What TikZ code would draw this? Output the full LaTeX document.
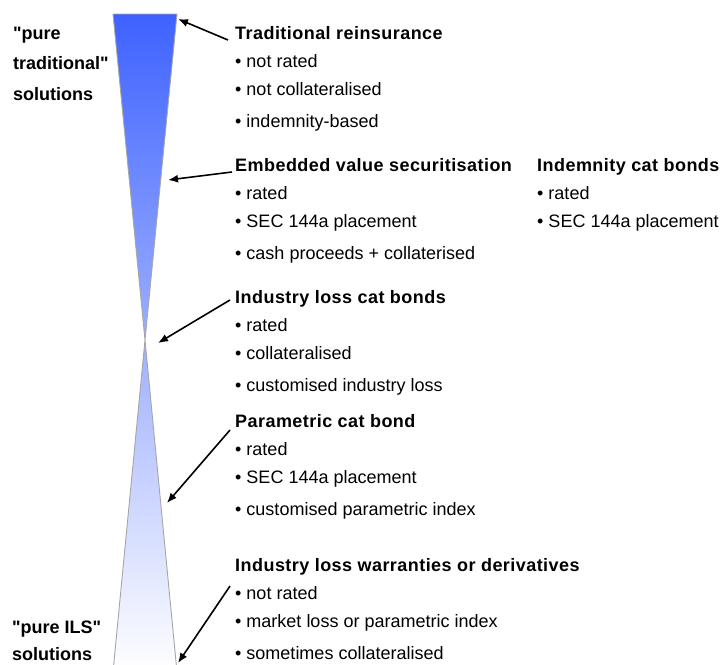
\documentclass[tikz,border=0pt]{standalone}
\usepackage{fontspec}
\setmainfont{Liberation Sans}
\newfontfamily\headfont{Liberation Sans}[LetterSpace=2.5]
\newfontfamily\sidefont{Liberation Sans}[Ligatures=TeXOff]
\usepackage{tikz}
\usetikzlibrary{positioning}
\usetikzlibrary{arrows.meta}

\definecolor{topblue}{RGB}{62,98,255}

\begin{document}
\begin{tikzpicture}[x=1pt,y=-1pt,
		head/.style={inner sep=0pt, anchor=base west, text height=13pt, text depth=4pt, font=\headfont\bfseries\fontsize{18}{20}\selectfont},
		point/.style={inner sep=0pt, text height=13pt, text depth=4pt, font=\fontsize{18}{20}\selectfont},
		side/.style={inner sep=0pt, anchor=base west, font=\sidefont\bfseries\fontsize{18}{20}\selectfont},
		hint/.style={line width=1.6pt, -{Latex[length=10pt,width=8pt]}}]
		\useasboundingbox (0,0) rectangle (722,664);
		
		% hourglass
		\begin{scope}
			\clip (0,0) rectangle (722,664);
			\shade[top color=topblue, bottom color=white] (113,14) -- (177,14) -- (145,340) -- cycle (145,340) -- (177,672) -- (113,672) -- cycle;
			\draw[gray!70, line width=0.9pt] (113,14) -- (177,14) -- (145,340) -- cycle (113,672) -- (145,340) -- (177,672);
		\end{scope}
		\coordinate (tipA) at (178,19);
		\coordinate (tipB) at (168,180);
		\coordinate (tipC) at (158,343);
		\coordinate (tipD) at (167,503);
		\coordinate (tipE) at (178,663);
		
		% left labels
		\node[side] (trad1l) at (13,39) {"pure};
		\node[side] (trad2l) at (13,69) {traditional"};
		\node[side] (trad3l) at (13,100) {solutions};
		\node[side] (ils1l) at (12,633) {"pure ILS"};
		\node[side] (ils2l) at (12,660) {solutions};
		
		% blocks
		\node[head] (trad) at (235,39) {Traditional reinsurance};
		\node[point, below right=11pt and 0pt of trad.south west] (trad1) {• not rated};
		\node[point, below right=11pt and 0pt of trad1.south west] (trad2) {• not collateralised};
		\node[point, below right=14pt and 0pt of trad2.south west] (trad3) {• indemnity-based};
		
		\node[head] (emb) at (235,171) {Embedded value securitisation};
		\node[point, below right=11pt and 0pt of emb.south west] (emb1) {• rated};
		\node[point, below right=11pt and 0pt of emb1.south west] (emb2) {• SEC 144a placement};
		\node[point, below right=14pt and 0pt of emb2.south west] (emb3) {• cash proceeds + collaterised};
		
		\node[head] (idem) at (537,171) {Indemnity cat bonds};
		\node[point, below right=11pt and 0pt of idem.south west] (idem1) {• rated};
		\node[point, below right=11pt and 0pt of idem1.south west] (idem2) {• SEC 144a placement};
		
		\node[head] (ilcb) at (235,303) {Industry loss cat bonds};
		\node[point, below right=11pt and 0pt of ilcb.south west] (ilcb1) {• rated};
		\node[point, below right=11pt and 0pt of ilcb1.south west] (ilcb2) {• collateralised};
		\node[point, below right=14pt and 0pt of ilcb2.south west] (ilcb3) {• customised industry loss};
		
		\node[head] (para) at (235,427) {Parametric cat bond};
		\node[point, below right=11pt and 0pt of para.south west] (para1) {• rated};
		\node[point, below right=11pt and 0pt of para1.south west] (para2) {• SEC 144a placement};
		\node[point, below right=14pt and 0pt of para2.south west] (para3) {• customised parametric index};
		
		\node[head] (ilw) at (235,571) {Industry loss warranties or derivatives};
		\node[point, below right=11pt and 0pt of ilw.south west] (ilw1) {• not rated};
		\node[point, below right=11pt and 0pt of ilw1.south west] (ilw2) {• market loss or parametric index};
		\node[point, below right=14pt and 0pt of ilw2.south west] (ilw3) {• sometimes collateralised};
		
		% arrows
		\draw[hint] ([xshift=-7pt,yshift=-1pt]trad.base west) -- (tipA);
		\draw[hint] ([xshift=-3pt,yshift=-1pt]emb.base west) -- (tipB);
		\draw[hint] ([xshift=-5pt,yshift=3pt]ilcb.base west) -- (tipC);
		\draw[hint] ([xshift=-5pt,yshift=-3pt]para.base west) -- (tipD);
		\draw[hint] ([xshift=-5pt,yshift=-15pt]ilw.base west) -- (tipE);
\end{tikzpicture}
\end{document}
